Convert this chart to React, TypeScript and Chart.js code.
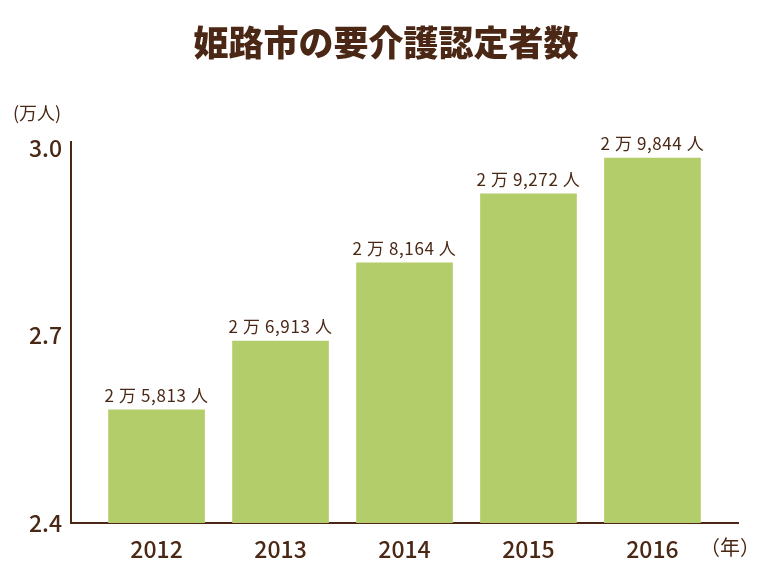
import React, { useEffect, useRef } from "react";
import { Chart, registerables, Plugin } from "chart.js";

Chart.register(...registerables);

const years = [2012, 2013, 2014, 2015, 2016];
const counts = [2.5813, 2.6913, 2.8164, 2.9272, 2.9844];
const barLabels = ["2 万 5,813 人", "2 万 6,913 人", "2 万 8,164 人", "2 万 9,272 人", "2 万 9,844 人"];
const yTicks = [2.4, 2.7, 3.0];

const brown = "#4a2815";
const green = "#b3cd6a";
const font = "'Noto Sans CJK JP', 'Noto Sans', sans-serif";

// title, unit captions and the value labels above each bar
const decorations: Plugin = {
  id: "decorations",
  afterDatasetsDraw(chart) {
    const ctx = chart.ctx as CanvasRenderingContext2D & { letterSpacing?: string };
    ctx.save();
    ctx.fillStyle = brown;

    ctx.font = `900 35px ${font}`;
    ctx.textAlign = "center";
    ctx.textBaseline = "middle";
    ctx.fillText("姫路市の要介護認定者数", 386, 43);

    ctx.font = `18px ${font}`;
    ctx.textAlign = "left";
    ctx.fillText("(万人)", 13, 113);
    ctx.font = `20px ${font}`;
    ctx.fillText("（年）", 700, 547);

    ctx.font = `17px ${font}`;
    ctx.letterSpacing = "0.6px";
    ctx.textAlign = "center";
    ctx.textBaseline = "bottom";
    chart.getDatasetMeta(0).data.forEach((bar, i) => {
      ctx.fillText(barLabels[i], bar.x, bar.y - 6);
    });
    ctx.restore();
  },
};

export default function App() {
  const canvasRef = useRef<HTMLCanvasElement | null>(null);

  useEffect(() => {
    document.body.style.margin = "0";
    if (!canvasRef.current) return;

    const chart = new Chart(canvasRef.current, {
      type: "bar",
      data: {
        datasets: [
          {
            data: years.map((y, i) => ({ x: y, y: counts[i] })),
            backgroundColor: green,
            barThickness: 96,
          },
        ],
      },
      options: {
        responsive: false,
        animation: false,
        layout: { padding: { top: 142, right: 22, left: 0, bottom: 0 } },
        plugins: {
          legend: { display: false },
          tooltip: { enabled: false },
        },
        scales: {
          x: {
            type: "linear",
            offset: false,
            min: 2011.31,
            max: 2016.69,
            afterBuildTicks: (s) => {
              s.ticks = years.map((v) => ({ value: v }));
            },
            afterFit: (s) => {
              s.height = 47;
            },
            grid: { display: false, drawTicks: false },
            border: { color: brown, width: 2 },
            ticks: {
              padding: 12,
              color: brown,
              font: { family: font, size: 23, weight: 500 },
              callback: (v) => String(v),
            },
          },
          y: {
            min: 2.4,
            max: 3.01,
            afterBuildTicks: (s) => {
              s.ticks = yTicks.map((v) => ({ value: v }));
            },
            afterFit: (s) => {
              s.width = 71;
            },
            grid: { display: false, drawTicks: false },
            border: { color: brown, width: 2 },
            ticks: {
              padding: 9,
              color: brown,
              font: { family: font, size: 23, weight: 500 },
              callback: (v) => Number(v).toFixed(1),
            },
          },
        },
      },
      plugins: [decorations],
    });

    return () => chart.destroy();
  }, []);

  return (
    <div style={{ width: 760, height: 570, background: "#fff" }}>
      <canvas ref={canvasRef} width={760} height={570}></canvas>
    </div>
  );
}
